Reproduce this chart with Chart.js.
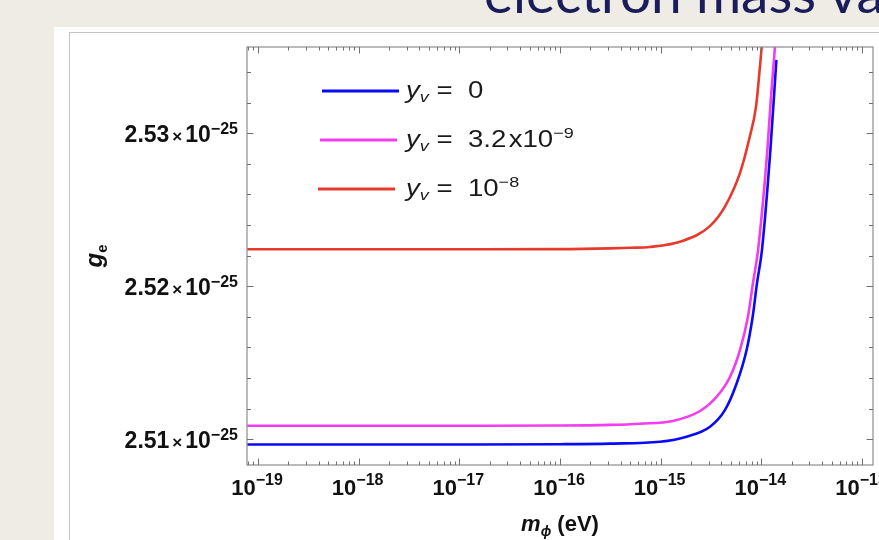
<!DOCTYPE html>
<html><head><meta charset="utf-8">
<script src="https://cdn.jsdelivr.net/npm/chart.js@4.4.1/dist/chart.umd.min.js"></script>
<style>
html,body{margin:0;padding:0;width:879px;height:540px;overflow:hidden;background:#efece5;}
#panel{position:absolute;left:54px;top:27px;width:900px;height:600px;background:#fff;}
#inner{position:absolute;left:69px;top:32px;width:900px;height:600px;border:1.5px solid #c4c4c4;box-sizing:border-box;}
#title{position:absolute;left:484px;top:-36px;font:55px Lato;line-height:56px;color:#1b1d5a;white-space:nowrap;}
canvas{position:absolute;left:0;top:0;}
</style></head><body>
<div id="panel"></div><div id="inner"></div>
<div id="title">electron mass va</div>
<canvas id="c" width="879" height="540"></canvas>
<script>
// ---- data (m_phi in eV, g_e in units of 1e-25) ----
const massBlue = [7.8e-20, 1e-18, 1e-17, 1e-16, 3.16e-16, 9.84e-16, 1.81e-15, 3.09e-15, 4.36e-15, 5.69e-15, 7.14e-15, 8.2e-15, 9.06e-15, 1.014e-14, 1.23e-14, 1.41e-14];
const gBlue    = [2.50966, 2.50966, 2.50966, 2.50968, 2.50972, 2.50984, 2.51017, 2.51082, 2.51192, 2.51366, 2.51584, 2.51801, 2.52022, 2.52237, 2.52891, 2.53480];

const massMagenta = [7.8e-20, 1e-18, 1e-17, 1e-16, 3.16e-16, 6.3e-16, 1.32e-15, 2.46e-15, 3.6e-15, 4.89e-15, 6.14e-15, 7.36e-15, 8.26e-15, 9.27e-15, 1.148e-14, 1.24e-14, 1.365e-14, 1.41e-14];
const gMagenta    = [2.51089, 2.51089, 2.51089, 2.51090, 2.51094, 2.51102, 2.51120, 2.51185, 2.51278, 2.51409, 2.51584, 2.51801, 2.52022, 2.52237, 2.52891, 2.53218, 2.53564, 2.53700];

const massRed = [7.8e-20, 1e-18, 1e-17, 1e-16, 3.16e-16, 5e-16, 7.8e-16, 1.67e-15, 3.1e-15, 4.36e-15, 6.14e-15, 7.53e-15, 8.85e-15, 9.55e-15, 1.007e-14, 1.047e-14];
const gRed    = [2.52242, 2.52242, 2.52242, 2.52243, 2.52248, 2.52252, 2.52257, 2.52298, 2.52395, 2.52522, 2.52741, 2.52956, 2.53174, 2.53392, 2.53564, 2.53720];

const seriesLabels = ['y_v = 0', 'y_v = 3.2x10^-9', 'y_v = 10^-8'];
const seriesColors = ['#0a0af5', '#f23cf0', '#e8392d'];

const xTickExponents = [-19, -18, -17, -16, -15, -14, -13];
const yTickValues = [2.51, 2.52, 2.53];
const yTickLabels = ['2.51', '2.52', '2.53'];
const yExponent = '\u221225';

const xMin = 7.775e-20, xMax = 1.2856e-13;
const yMin = 2.50832, yMax = 2.53564;

// ---- helpers ----
const FF = '"Liberation Sans", Arial, sans-serif';
function segWidth(ctx, segs){
  let w = 0;
  for (const s of segs){ ctx.font = s.f; w += (s.dx||0) + ctx.measureText(s.t).width; }
  return w;
}
function drawSegs(ctx, x, y, segs, color){
  ctx.fillStyle = color || '#111';
  ctx.textBaseline = 'alphabetic';
  ctx.textAlign = 'left';
  let cx = x;
  for (const s of segs){
    ctx.font = s.f; cx += (s.dx||0);
    ctx.fillText(s.t, cx, y + (s.dy||0));
    cx += ctx.measureText(s.t).width;
  }
}
const zip = (xs, ys) => xs.map((v,i)=>({x:v, y:ys[i]}));

const decor = {
  id:'decor',
  afterDatasetsDraw(chart){
    const {ctx, chartArea:a} = chart;
    const xs = chart.scales.x, ys = chart.scales.y;
    ctx.save();
    ctx.strokeStyle = '#8c8c8c'; ctx.lineWidth = 1.2;
    ctx.strokeRect(a.left, a.top, a.right-a.left, a.bottom-a.top);
    ctx.strokeStyle = '#707070'; ctx.lineWidth = 1;
    const seg = (x1,y1,x2,y2)=>{ctx.beginPath();ctx.moveTo(x1,y1);ctx.lineTo(x2,y2);ctx.stroke();};
    for (let n=-20;n<=-13;n++){
      for (let k=1;k<=9;k++){
        const v = k*Math.pow(10,n);
        if (v < xs.min || v > xs.max) continue;
        const px = Math.round(xs.getPixelForValue(v))+0.5;
        const len = k===1 ? 6.5 : 3.5;
        seg(px, a.bottom, px, a.bottom-len);
        seg(px, a.top, px, a.top+len);
      }
    }
    for (let j=1250;j<=1270;j++){
      const v = j*0.002;
      if (v < ys.min || v > ys.max) continue;
      const py = Math.round(ys.getPixelForValue(v))+0.5;
      const len = (j%5===0) ? 6.5 : 4;
      seg(a.left, py, a.left+len, py);
      seg(a.right, py, a.right-len, py);
    }
    ctx.restore();
  },
  afterDraw(chart){
    const {ctx, chartArea:a} = chart;
    const xs = chart.scales.x, ys = chart.scales.y;
    ctx.save();
    for (const e of xTickExponents){
      const v = Math.pow(10,e);
      if (v < xs.min*0.5 || v > xs.max*1.5) continue;
      const px = xs.getPixelForValue(v);
      const segs = [{t:'10', f:'bold 22px '+FF}, {t:'\u2212'+String(-e), f:'bold 16px '+FF, dy:-10}];
      const w = segWidth(ctx, segs);
      drawSegs(ctx, px - w/2 - 1, 495, segs, '#111');
    }
    yTickValues.forEach((v,i)=>{
      const py = ys.getPixelForValue(v);
      const segs = [{t:yTickLabels[i], f:'bold 23px '+FF}, {t:'\u00d7', f:'bold 17px '+FF, dx:3}, {t:'10', f:'bold 23px '+FF, dx:3}, {t:yExponent, f:'bold 16px '+FF, dy:-8.5}];
      const w = segWidth(ctx, segs);
      drawSegs(ctx, 238 - w, py + 9, segs, '#111');
    });
    const xt = [{t:'m', f:'italic bold 22px '+FF}, {t:'\u03d5', f:'italic bold 14px '+FF, dy:5}, {t:' (eV)', f:'bold 22px '+FF}];
    const xw = segWidth(ctx, xt);
    drawSegs(ctx, (a.left+a.right)/2 - xw/2, 531, xt, '#111');
    ctx.save();
    ctx.translate(102, (a.top+a.bottom)/2);
    ctx.rotate(-Math.PI/2);
    const yt = [{t:'g', f:'italic bold 24px '+FF}, {t:'e', f:'bold 15px '+FF, dy:5}];
    const yw = segWidth(ctx, yt);
    drawSegs(ctx, -yw/2, 0, yt, '#111');
    ctx.restore();
    const legY = [91, 140, 189];
    const legSegs = [
      [{t:'y', f:'italic 23px '+FF}, {t:'v', f:'italic 15px '+FF, dy:4}, {t:' =  0', f:'23px '+FF}],
      [{t:'y', f:'italic 23px '+FF}, {t:'v', f:'italic 15px '+FF, dy:4}, {t:' =  3.2', f:'23px '+FF}, {t:'x10', f:'23px '+FF, dx:2}, {t:'\u22129', f:'15px '+FF, dy:-9}],
      [{t:'y', f:'italic 23px '+FF}, {t:'v', f:'italic 15px '+FF, dy:4}, {t:' =  10', f:'23px '+FF}, {t:'\u22128', f:'15px '+FF, dy:-9}]
    ];
    for (let i=0;i<3;i++){
      ctx.strokeStyle = seriesColors[i]; ctx.lineWidth = 3;
      ctx.beginPath(); ctx.moveTo(322 - i*2, legY[i]); ctx.lineTo(399 - i*2, legY[i]); ctx.stroke();
      ctx.save();
      ctx.translate(406, legY[i] + 6.5);
      ctx.scale(1.2, 1);
      drawSegs(ctx, 0, 0, legSegs[i], '#1a1a1a');
      ctx.restore();
    }
    ctx.restore();
  }
};

new Chart(document.getElementById('c'), {
  type:'line',
  data:{datasets:[
    {label:seriesLabels[0], data:zip(massBlue,gBlue), borderColor:seriesColors[0], borderWidth:2.6, pointRadius:0, cubicInterpolationMode:'monotone', fill:false, clip:0, order:3},
    {label:seriesLabels[1], data:zip(massMagenta,gMagenta), borderColor:seriesColors[1], borderWidth:2.6, pointRadius:0, cubicInterpolationMode:'monotone', fill:false, clip:0, order:2},
    {label:seriesLabels[2], data:zip(massRed,gRed), borderColor:seriesColors[2], borderWidth:2.6, pointRadius:0, cubicInterpolationMode:'monotone', fill:false, clip:0, order:1}
  ]},
  options:{
    responsive:false, animation:false, devicePixelRatio:1,
    layout:{padding:{left:247, top:47, right:6, bottom:75}},
    plugins:{legend:{display:false}, tooltip:{enabled:false}},
    scales:{
      x:{type:'logarithmic', min:xMin, max:xMax, display:false},
      y:{type:'linear', min:yMin, max:yMax, display:false}
    }
  },
  plugins:[decor]
});
</script>
</body></html>
